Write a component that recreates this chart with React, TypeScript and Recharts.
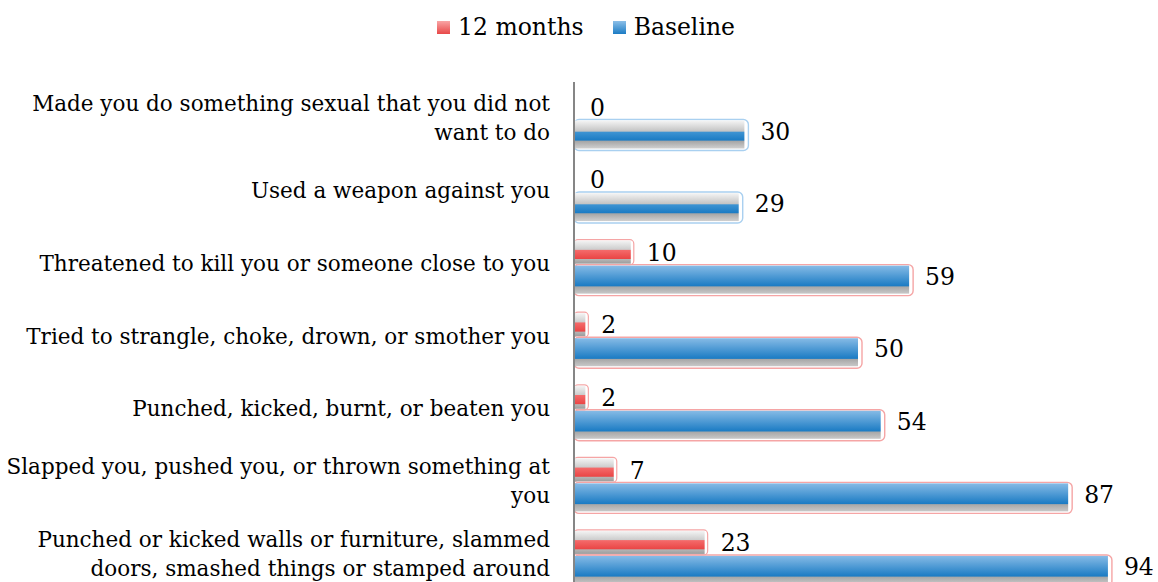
import React from "react";
import { BarChart, Bar, XAxis, YAxis, Legend, LabelList } from "recharts";

const categories = [
  "Made you do something sexual that you did not\nwant to do",
  "Used a weapon against you",
  "Threatened to kill you or someone close to you",
  "Tried to strangle, choke, drown, or smother you",
  "Punched, kicked, burnt, or beaten you",
  "Slapped you, pushed you, or thrown something at\nyou",
  "Punched or kicked walls or furniture, slammed\ndoors, smashed things or stamped around",
];
const months12 = [0, 0, 10, 2, 2, 7, 23];
const baseline = [30, 29, 59, 50, 54, 87, 94];
const seriesNames = ["12 months", "Baseline"];

const data = categories.map((category, i) => ({
  category,
  m12: months12[i],
  base: baseline[i],
}));

const FONT = "'DejaVu Serif', serif";
const AXIS_LEFT = 574;
const SHIFT = 3.5;

const CategoryTick = (props: any) => {
  const { y, payload } = props;
  const lines = String(payload.value).split("\n");
  const lh = 29;
  const start = y - ((lines.length - 1) * lh) / 2;
  return (
    <g>
      {lines.map((line, i) => (
        <text
          key={i}
          x={AXIS_LEFT - 24}
          y={start + i * lh}
          dy="0.35em"
          textAnchor="end"
          fontFamily={FONT}
          fontSize={21.5}
          fill="#000"
        >
          {line}
        </text>
      ))}
    </g>
  );
};

const RedBar = (props: any) => {
  const { x, y, width, height } = props;
  if (!width || width <= 0) return null;
  const yy = y + SHIFT;
  return (
    <g>
      <rect x={x} y={yy - 1} width={width + 3} height={height + 2} rx={4} fill="none" stroke="#f5a5a5" strokeWidth={1.2} />
      <rect x={x} y={yy} width={width} height={height} fill="url(#redGrad)" />
    </g>
  );
};

const BlueBar = (props: any) => {
  const { x, y, width, height, payload } = props;
  if (!width || width <= 0) return null;
  const yy = y + SHIFT;
  const flat = payload && payload.m12 === 0;
  return (
    <g>
      <rect
        x={x}
        y={yy - 1}
        width={width + 4}
        height={height + 3}
        rx={5}
        fill="none"
        stroke={flat ? "#a9d0f0" : "#f5a5a5"}
        strokeWidth={1.4}
      />
      <rect x={x} y={yy} width={width} height={height} fill={flat ? "url(#blueFlatGrad)" : "url(#blueGrad)"} />
    </g>
  );
};

const ValueLabel = (props: any) => {
  const { x, y, width, height, value, shift } = props;
  return (
    <text
      x={x + width + 16}
      y={y + height / 2 + shift}
      dy="0.35em"
      fontFamily={FONT}
      fontSize={23.5}
      fill="#000"
    >
      {value}
    </text>
  );
};

const LegendContent = () => (
  <div
    style={{
      display: "flex",
      justifyContent: "center",
      alignItems: "center",
      height: 28,
      lineHeight: "28px",
      fontFamily: FONT,
      fontSize: 23.5,
      color: "#000",
      marginLeft: 14,
    }}
  >
    <span style={{ width: 13, height: 13, background: "linear-gradient(#f9a5a5, #e84848)", display: "inline-block" }} />
    <span style={{ marginLeft: 8 }}>{seriesNames[0]}</span>
    <span style={{ width: 13, height: 13, marginLeft: 29, background: "linear-gradient(#8cbfe8, #1c7cc4)", display: "inline-block" }} />
    <span style={{ marginLeft: 8 }}>{seriesNames[1]}</span>
  </div>
);

export default function App() {
  return (
    <div style={{ position: "fixed", left: 0, top: 0, width: 1158, height: 582, overflow: "hidden", background: "#fff" }}>
      <BarChart
        width={1158}
        height={600}
        data={data}
        layout="vertical"
        margin={{ top: 82, right: 16, bottom: 10, left: 0 }}
        barGap={2}
      >
        <defs>
          <linearGradient id="redGrad" x1="0" y1="0" x2="0" y2="1">
            <stop offset="0%" stopColor="#f4f4f4" />
            <stop offset="38%" stopColor="#cdcdcd" />
            <stop offset="42%" stopColor="#f46a6a" />
            <stop offset="78%" stopColor="#ea4646" />
            <stop offset="82%" stopColor="#b4b4b4" />
            <stop offset="100%" stopColor="#9c9c9c" />
          </linearGradient>
          <linearGradient id="blueGrad" x1="0" y1="0" x2="0" y2="1">
            <stop offset="0%" stopColor="#86bbe6" />
            <stop offset="72%" stopColor="#1c7cc4" />
            <stop offset="76%" stopColor="#a8a8a8" />
            <stop offset="100%" stopColor="#c8c8c8" />
          </linearGradient>
          <linearGradient id="blueFlatGrad" x1="0" y1="0" x2="0" y2="1">
            <stop offset="0%" stopColor="#f5f5f5" />
            <stop offset="38%" stopColor="#c4c4c4" />
            <stop offset="42%" stopColor="#3d93d2" />
            <stop offset="70%" stopColor="#1c7cc4" />
            <stop offset="74%" stopColor="#a6a6a6" />
            <stop offset="100%" stopColor="#d0d0d0" />
          </linearGradient>
        </defs>
        <XAxis type="number" domain={[0, 100]} hide />
        <YAxis
          type="category"
          dataKey="category"
          width={AXIS_LEFT}
          axisLine={{ stroke: "#868686", strokeWidth: 2 }}
          tickLine={false}
          tick={<CategoryTick />}
          interval={0}
        />
        <Legend
          layout="vertical"
          align="center"
          verticalAlign="middle"
          content={<LegendContent />}
          wrapperStyle={{ top: 13, left: 0, width: 1158, height: 28 }}
        />
        <Bar dataKey="m12" name={seriesNames[0]} barSize={23} shape={<RedBar />} isAnimationActive={false}>
          <LabelList dataKey="m12" content={<ValueLabel shift={4} />} />
        </Bar>
        <Bar dataKey="base" name={seriesNames[1]} barSize={28} shape={<BlueBar />} isAnimationActive={false}>
          <LabelList dataKey="base" content={<ValueLabel shift={0.5} />} />
        </Bar>
      </BarChart>
    </div>
  );
}
